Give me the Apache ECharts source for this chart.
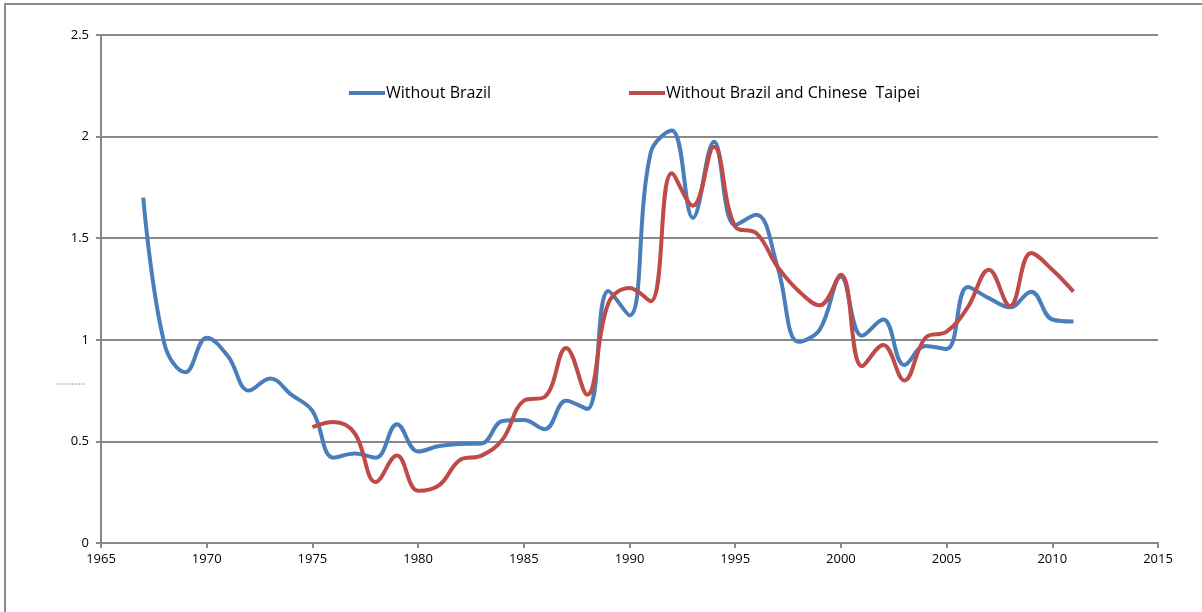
<!DOCTYPE html>
<html>
<head>
    <meta charset="utf-8">
    <title>Without Brazil</title>
    <script src="https://cdn.jsdelivr.net/npm/echarts@6/dist/echarts.min.js"></script>
    <style>
        html, body { margin: 0; padding: 0; background: #fff; }
        #main { width: 1202px; height: 612px; }
    </style>
</head>
<body>
<div id="main"></div>
<script>
    // values
    var years = [1967, 1968, 1969, 1970, 1971, 1972, 1973, 1974, 1975, 1976,
        1977, 1978, 1979, 1980, 1981, 1982, 1983, 1984, 1985, 1986,
        1987, 1988, 1989, 1990, 1991, 1992, 1993, 1994, 1995, 1996,
        1997, 1998, 1999, 2000, 2001, 2002, 2003, 2004, 2005, 2006,
        2007, 2008, 2009, 2010, 2011];
    var withoutBrazil = [1.70, 0.98, 0.84, 1.01, 0.92, 0.75, 0.81, 0.73, 0.65, 0.42,
        0.44, 0.42, 0.585, 0.45, 0.477, 0.487, 0.49, 0.60, 0.605, 0.56,
        0.70, 0.66, 1.24, 1.12, 1.92, 2.03, 1.60, 1.975, 1.565, 1.615,
        1.36, 0.99, 1.05, 1.31, 1.02, 1.10, 0.876, 0.97, 0.955, 1.26,
        1.205, 1.16, 1.237, 1.10, 1.09];
    var taipeiYears = [1975, 1976, 1977, 1978, 1979, 1980, 1981, 1982, 1983, 1984,
        1985, 1986, 1987, 1988, 1989, 1990, 1991, 1992, 1993, 1994,
        1995, 1996, 1997, 1998, 1999, 2000, 2001, 2002, 2003, 2004,
        2005, 2006, 2007, 2008, 2009, 2010, 2011];
    var withoutBrazilTaipei = [0.57, 0.595, 0.54, 0.30, 0.43, 0.257, 0.285, 0.41, 0.43, 0.51,
        0.70, 0.72, 0.96, 0.73, 1.18, 1.255, 1.19, 1.82, 1.66, 1.95,
        1.557, 1.525, 1.36, 1.24, 1.17, 1.32, 0.87, 0.975, 0.80, 1.01,
        1.04, 1.16, 1.345, 1.166, 1.427, 1.345, 1.237];
    var seriesNames = ['Without Brazil', 'Without Brazil and Chinese  Taipei'];

    function pairs(xs, ys) {
        var out = [];
        for (var i = 0; i < xs.length; i++) {
            out.push([xs[i], ys[i]]);
        }
        return out;
    }

    var font = '"Open Sans", "Liberation Sans", sans-serif';
    var gray = '#888888';

    var chart = echarts.init(document.getElementById('main'));
    chart.setOption({
        animation: false,
        textStyle: { fontFamily: font },
        grid: { left: 101, right: 44, top: 35, bottom: 69 },
        legend: [
            {
                left: 344, top: 80,
                data: [seriesNames[0]],
                icon: 'rect', itemWidth: 36, itemHeight: 4, itemGap: 0,
                textStyle: { fontSize: 16, color: '#000', fontFamily: font, padding: [0, 0, 0, -4] }
            },
            {
                left: 624, top: 80,
                data: [seriesNames[1]],
                icon: 'rect', itemWidth: 36, itemHeight: 4, itemGap: 0,
                textStyle: { fontSize: 16, color: '#000', fontFamily: font, padding: [0, 0, 0, -4] }
            }
        ],
        xAxis: {
            type: 'value',
            min: 1965, max: 2015, interval: 5,
            axisLine: { lineStyle: { color: gray, width: 2 } },
            axisTick: { show: true, length: 5, lineStyle: { color: gray, width: 2 } },
            axisLabel: {
                color: '#000', fontSize: 13, margin: 10, fontFamily: font,
                formatter: function (v) { return String(v); }
            },
            splitLine: { show: false }
        },
        yAxis: {
            type: 'value',
            min: 0, max: 2.5, interval: 0.5,
            axisLine: { show: true, lineStyle: { color: gray, width: 2 } },
            axisTick: { show: true, length: 5, lineStyle: { color: gray, width: 2 } },
            axisLabel: { color: '#000', fontSize: 13, margin: 12, fontFamily: font },
            splitLine: { show: true, lineStyle: { color: gray, width: 2 } }
        },
        graphic: [
            {
                type: 'rect', silent: true,
                shape: { x: 5, y: 4, width: 1260, height: 700 },
                style: { fill: 'none', stroke: '#8c8c8c', lineWidth: 2 }
            },
            {
                type: 'line', silent: true,
                shape: { x1: 57, y1: 384, x2: 85, y2: 384 },
                style: { stroke: '#9a9a9a', lineWidth: 1, lineDash: [2, 1] }
            }
        ],
        series: [
            {
                name: seriesNames[0],
                type: 'line',
                data: pairs(years, withoutBrazil),
                smooth: 0.4,
                showSymbol: false,
                lineStyle: { color: '#4A7EBB', width: 4 },
                itemStyle: { color: '#4A7EBB' }
            },
            {
                name: seriesNames[1],
                type: 'line',
                data: pairs(taipeiYears, withoutBrazilTaipei),
                smooth: 0.4,
                showSymbol: false,
                lineStyle: { color: '#BE4B48', width: 4 },
                itemStyle: { color: '#BE4B48' }
            }
        ]
    });
</script>
</body>
</html>
